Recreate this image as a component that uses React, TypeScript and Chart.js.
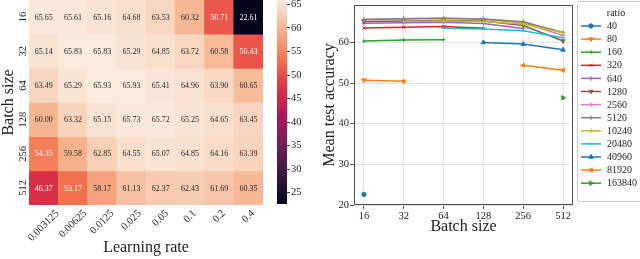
import React, { useEffect, useRef } from "react";
import { Chart, registerables } from "chart.js";
import { drawPoint } from "chart.js/helpers";

Chart.register(...registerables);

const SERIF = "'Liberation Serif', 'DejaVu Serif', serif";
const TEXT = "#222222";

// ---------- data ----------
const learningRates = ["0.003125", "0.00625", "0.0125", "0.025", "0.05", "0.1", "0.2", "0.4"];
const batchSizes = [16, 32, 64, 128, 256, 512];
const acc16 = [65.65, 65.61, 65.16, 64.68, 63.53, 60.32, 50.71, 22.61];
const acc32 = [65.14, 65.83, 65.83, 65.29, 64.85, 63.72, 60.58, 50.43];
const acc64 = [63.49, 65.29, 65.93, 65.93, 65.41, 64.96, 63.9, 60.65];
const acc128 = [60.0, 63.32, 65.15, 65.73, 65.72, 65.25, 64.65, 63.45];
const acc256 = [54.35, 59.58, 62.85, 64.55, 65.07, 64.85, 64.16, 63.39];
const acc512 = [46.37, 53.17, 58.17, 61.13, 62.37, 62.43, 61.69, 60.35];
const accRows = [acc16, acc32, acc64, acc128, acc256, acc512];
const ratios = [40, 80, 160, 320, 640, 1280, 2560, 5120, 10240, 20480, 40960, 81920, 163840];
const colorbarTicks = [25, 30, 35, 40, 45, 50, 55, 60, 65];
const accuracyTicks = [20, 30, 40, 50, 60];

// ---------- styles ----------
const seriesColors = ["#1f77b4", "#ff7f0e", "#2ca02c", "#d62728", "#9467bd", "#8c564b", "#e377c2", "#7f7f7f", "#bcbd22", "#17becf", "#1f77b4", "#ff7f0e", "#2ca02c"];
const seriesMarkers = ["circle", "triangle", "cross", "crossRot", "cross", "triangle", "cross", "cross", "cross", "line", "triangle", "triangle", "triangle"];
const seriesMarkerRot = [0, 180, 0, 0, 0, 180, 0, 0, 0, 0, 0, 270, 90];
const seriesMarkerSize = [2.2, 2.6, 2, 2.2, 2.4, 2.3, 2.4, 2.4, 2.4, 2.4, 2.6, 2.6, 2.6];

const rocketStops: [number, [number, number, number]][] = [
  [0, [3, 5, 26]],
  [1 / 7, [53, 25, 62]],
  [2 / 7, [112, 31, 87]],
  [3 / 7, [173, 23, 89]],
  [4 / 7, [225, 51, 66]],
  [5 / 7, [243, 118, 81]],
  [6 / 7, [246, 180, 143]],
  [1, [250, 235, 221]],
];
function rocketRGB(t: number): [number, number, number] {
  t = Math.max(0, Math.min(1, t));
  for (let i = 1; i < rocketStops.length; i++) {
    const [t1, c1] = rocketStops[i];
    const [t0, c0] = rocketStops[i - 1];
    if (t <= t1) {
      const f = (t - t0) / (t1 - t0);
      return [0, 1, 2].map((k) => c0[k] + (c1[k] - c0[k]) * f) as [number, number, number];
    }
  }
  return rocketStops[rocketStops.length - 1][1];
}
const rgbStr = (c: number[]) => `rgb(${Math.round(c[0])},${Math.round(c[1])},${Math.round(c[2])})`;

const allValues = accRows.flat();
const vmin = Math.min(...allValues);
const vmax = Math.max(...allValues);
const norm = (v: number) => (v - vmin) / (vmax - vmin);

function textColorFor(v: number) {
  const c = rocketRGB(norm(v)).map((x) => {
    const s = x / 255;
    return s <= 0.03928 ? s / 12.92 : Math.pow((s + 0.055) / 1.055, 2.4);
  });
  const lum = 0.2126 * c[0] + 0.7152 * c[1] + 0.0722 * c[2];
  return lum > 0.408 ? "#262626" : "#ffffff";
}

// ---------- line series (same grid re-indexed by batch/lr ratio) ----------
const lineSeries = ratios.map((ratio) => {
  const pts: { x: number; y: number }[] = [];
  batchSizes.forEach((b, i) => {
    const j = learningRates.findIndex((lr) => Math.abs(b / Number(lr) - ratio) < 1e-6);
    if (j >= 0) pts.push({ x: b, y: accRows[i][j] });
  });
  return pts;
});

export default function App() {
  const heatRef = useRef<HTMLCanvasElement>(null);
  const cbarRef = useRef<HTMLCanvasElement>(null);
  const lineRef = useRef<HTMLCanvasElement>(null);

  useEffect(() => {
    document.body.style.margin = "0";
    const charts: Chart[] = [];

    // ---------- heatmap ----------
    const heatPlugin = {
      id: "heatText",
      afterDatasetsDraw(chart: any) {
        const c = chart.ctx;
        c.save();
        c.font = `8px ${SERIF}`;
        c.textAlign = "center";
        c.textBaseline = "middle";
        chart.data.datasets.forEach((_ds: any, r: number) => {
          chart.getDatasetMeta(r).data.forEach((el: any, j: number) => {
            const p = el.getProps(["x", "y", "base"], true);
            const v = accRows[r][j];
            c.fillStyle = textColorFor(v);
            c.fillText(v.toFixed(2), p.x, (p.y + p.base) / 2 + 0.5);
          });
        });
        c.restore();
      },
      afterDraw(chart: any) {
        const c = chart.ctx;
        const xs = chart.scales.x;
        const ys = chart.scales.y;
        const area = chart.chartArea;
        c.save();
        c.fillStyle = TEXT;
        c.font = `10.5px ${SERIF}`;
        batchSizes.forEach((b, r) => {
          const y = ys.getPixelForValue(r + 0.5);
          c.save();
          c.translate(23, y);
          c.rotate(-Math.PI / 2);
          c.textAlign = "center";
          c.textBaseline = "middle";
          c.fillText(String(b), 0, 0);
          c.restore();
        });
        learningRates.forEach((lr, j) => {
          const x = xs.getPixelForValue(j);
          const w = c.measureText(lr).width;
          const h = 8;
          const half = (w + h) / (2 * Math.SQRT2);
          c.save();
          c.translate(x, area.bottom + 4 + half);
          c.rotate(-Math.PI / 4);
          c.textAlign = "center";
          c.textBaseline = "middle";
          c.fillText(lr, 0, 0);
          c.restore();
        });
        c.font = `16px ${SERIF}`;
        c.textAlign = "center";
        c.textBaseline = "middle";
        c.fillText("Learning rate", (area.left + area.right) / 2, 248);
        c.save();
        c.translate(9, (area.top + area.bottom) / 2);
        c.rotate(-Math.PI / 2);
        c.fillText("Batch size", 0, 0);
        c.restore();
        c.restore();
      },
    };

    charts.push(
      new Chart(heatRef.current!, {
        type: "bar",
        data: {
          labels: learningRates,
          datasets: accRows.map((row, r) => ({
            label: String(batchSizes[r]),
            data: row.map(() => [r, r + 1]),
            backgroundColor: row.map((v) => rgbStr(rocketRGB(norm(v)))),
            borderWidth: 0,
            barPercentage: 1,
            categoryPercentage: 1,
            grouped: false,
          })) as any,
        },
        options: {
          responsive: false,
          animation: false,
          events: [],
          layout: { padding: { left: 29, right: 2, top: 0, bottom: 54 } },
          plugins: { legend: { display: false }, tooltip: { enabled: false } },
          scales: {
            x: { type: "category", display: false, offset: true },
            y: { type: "linear", display: false, min: 0, max: batchSizes.length, reverse: true },
          },
        },
        plugins: [heatPlugin],
      })
    );

    // ---------- colorbar ----------
    charts.push(
      new Chart(cbarRef.current!, {
        type: "bar",
        data: {
          labels: [""],
          datasets: [
            {
              data: [[vmin, vmax]] as any,
              backgroundColor: (ctx: any) => {
                const chart = ctx.chart;
                const area = chart.chartArea;
                if (!area) return rgbStr(rocketRGB(1));
                const g = chart.ctx.createLinearGradient(0, area.bottom, 0, area.top);
                for (let i = 0; i <= 40; i++) g.addColorStop(i / 40, rgbStr(rocketRGB(i / 40)));
                return g;
              },
              borderWidth: 0,
              barPercentage: 1,
              categoryPercentage: 1,
            },
          ],
        },
        options: {
          responsive: false,
          animation: false,
          events: [],
          layout: { padding: { left: 12, right: 0, top: 0, bottom: 55 } },
          plugins: { legend: { display: false }, tooltip: { enabled: false } },
          scales: {
            x: { display: false },
            y: {
              position: "right",
              min: vmin,
              max: vmax,
              afterBuildTicks: (s: any) => {
                s.ticks = colorbarTicks.map((v) => ({ value: v }));
              },
              afterFit: (s: any) => {
                s.width = 18;
                s.paddingTop = 0;
                s.paddingBottom = 0;
              },
              ticks: { font: { family: SERIF, size: 10.5 }, color: TEXT, padding: 1 },
              grid: { drawOnChartArea: false, tickLength: 3, tickColor: "#333" },
              border: { display: false },
            },
          },
        },
      })
    );

    // ---------- line chart ----------
    const framePlugin = {
      id: "frameLegend",
      afterDraw(chart: any) {
        const c = chart.ctx;
        const a = chart.chartArea;
        c.save();
        c.strokeStyle = "#4d4d4d";
        c.lineWidth = 1;
        c.strokeRect(Math.round(a.left) + 0.5, Math.round(a.top) + 0.5, Math.round(a.right - a.left) - 1, Math.round(a.bottom - a.top) - 1);
        // legend
        const lx = 277.5, ly = 1.5, lw = 80, lh = 200;
        c.fillStyle = "rgba(255,255,255,0.8)";
        c.strokeStyle = "#cccccc";
        c.beginPath();
        (c as any).roundRect(lx, ly, lw, lh, 2);
        c.fill();
        c.stroke();
        c.fillStyle = TEXT;
        c.font = `10px ${SERIF}`;
        c.textAlign = "center";
        c.textBaseline = "middle";
        c.fillText("ratio", 316, 13.5);
        c.textAlign = "left";
        ratios.forEach((r, k) => {
          const y = 26 + k * 13.1;
          c.strokeStyle = seriesColors[k];
          c.fillStyle = seriesColors[k];
          c.lineWidth = 1.5;
          c.beginPath();
          c.moveTo(281, y);
          c.lineTo(301, y);
          c.stroke();
          c.lineWidth = 1;
          drawPoint(c, { pointStyle: seriesMarkers[k] as any, rotation: seriesMarkerRot[k], radius: seriesMarkerSize[k], borderWidth: 1 } as any, 291, y);
          c.fillStyle = TEXT;
          c.fillText(String(r), 307, y + 0.5);
        });
        c.restore();
      },
    };

    charts.push(
      new Chart(lineRef.current!, {
        type: "line",
        data: {
          datasets: ratios.map((r, k) => ({
            label: String(r),
            data: lineSeries[k],
            borderColor: seriesColors[k],
            backgroundColor: seriesColors[k],
            pointBackgroundColor: seriesColors[k],
            pointBorderColor: seriesColors[k],
            pointStyle: seriesMarkers[k] as any,
            pointRotation: seriesMarkerRot[k],
            pointRadius: seriesMarkerSize[k],
            pointBorderWidth: 1,
            borderWidth: 1.5,
            fill: false,
            tension: 0,
            order: ratios.length - k,
          })),
        },
        options: {
          responsive: false,
          animation: false,
          events: [],
          layout: { padding: { left: 0, right: 67, top: 0, bottom: 0 } },
          plugins: { legend: { display: false }, tooltip: { enabled: false } },
          scales: {
            x: {
              type: "logarithmic",
              min: 16 / Math.pow(2, 0.25),
              max: 512 * Math.pow(2, 0.25),
              afterBuildTicks: (s: any) => {
                s.ticks = batchSizes.map((v) => ({ value: v }));
              },
              afterFit: (s: any) => {
                s.height = 54;
              },
              ticks: { font: { family: SERIF, size: 10.5 }, color: TEXT, padding: 1, maxRotation: 0, autoSkip: false, callback: (v: any) => String(v) },
              grid: { color: "#e3e3e3", tickLength: 4, tickColor: "#4d4d4d" },
              border: { display: false },
              title: { display: true, text: "Batch size", font: { family: SERIF, size: 16 }, color: TEXT, padding: { top: 0, bottom: 22.4 } },
            },
            y: {
              min: 20,
              max: 69.2,
              afterBuildTicks: (s: any) => {
                s.ticks = accuracyTicks.map((v) => ({ value: v }));
              },
              afterFit: (s: any) => {
                s.width = 54;
                s.paddingTop = 0;
                s.paddingBottom = 0;
              },
              ticks: { font: { family: SERIF, size: 10.5 }, color: TEXT, padding: 1 },
              grid: { color: "#e3e3e3", tickLength: 4, tickColor: "#4d4d4d" },
              border: { display: false },
              title: { display: true, text: "Mean test accuracy", font: { family: SERIF, size: 16 }, color: TEXT, padding: { top: 20.4, bottom: 0 } },
            },
          },
        },
        plugins: [framePlugin],
      })
    );

    return () => charts.forEach((ch) => ch.destroy());
  }, []);

  return (
    <div style={{ position: "relative", width: 640, height: 259, overflow: "hidden", background: "#fff" }}>
      <canvas ref={heatRef} width={265} height={259} style={{ position: "absolute", left: 0, top: 0 }} />
      <canvas ref={cbarRef} width={40} height={259} style={{ position: "absolute", left: 265, top: 0 }} />
      <canvas ref={lineRef} width={340} height={259} style={{ position: "absolute", left: 300, top: 0 }} />
    </div>
  );
}
